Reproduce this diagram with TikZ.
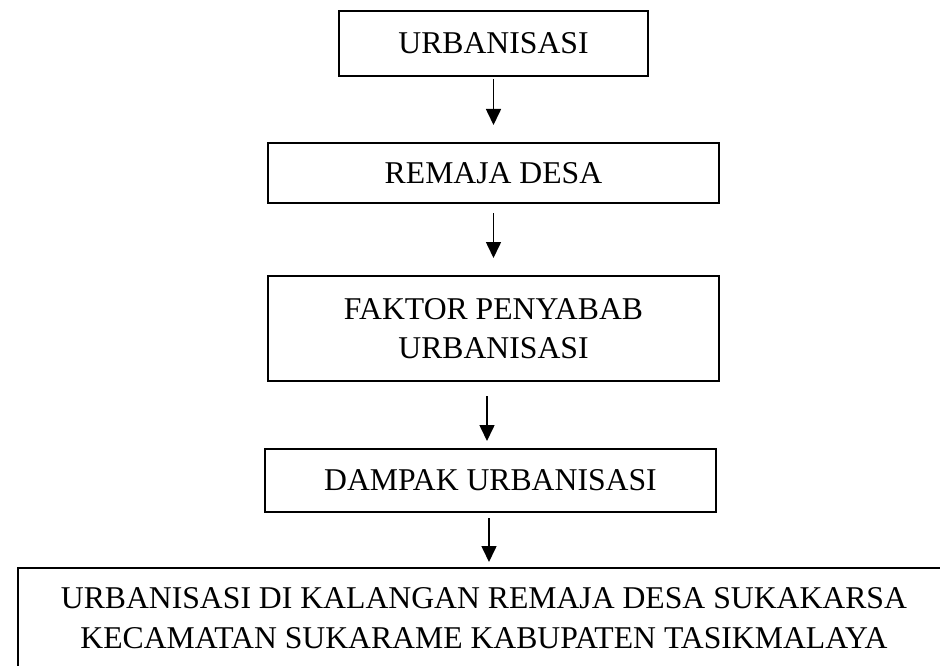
\documentclass[tikz,border=0pt]{standalone}
\usepackage{fontspec}
\setmainfont{Liberation Serif}
\usetikzlibrary{arrows.meta}
\begin{document}
\begin{tikzpicture}[x=1pt,y=-1pt,
  box/.style={draw=black, line width=2pt, inner sep=0pt, align=center,
    font=\fontsize{31.7}{39.5}\selectfont},
  arr/.style={line width=1.6pt, -{Triangle[width=15pt,length=16pt]}}]
\useasboundingbox (0,0) rectangle (940,666);
\node[box, minimum width=309pt, minimum height=65pt] (b1) at (493.5,43.5) {URBANISASI};
\node[box, minimum width=451pt, minimum height=60pt] (b2) at (493.5,173) {REMAJA DESA};
\node[box, minimum width=451pt, minimum height=105pt] (b3) at (493.5,328.5) {FAKTOR PENYABAB\\URBANISASI};
\node[box, minimum width=451pt, minimum height=63pt] (b4) at (490.5,480.5) {DAMPAK URBANISASI};
\node[box, minimum width=932pt, minimum height=100pt] (b5) at (484,618) {URBANISASI DI KALANGAN REMAJA DESA SUKAKARSA\\KECAMATAN SUKARAME KABUPATEN TASIKMALAYA};
\draw[arr] ([yshift=-2pt]b1.south) -- ([yshift=17pt]b2.north);
\draw[arr] ([yshift=-9pt]b2.south) -- ([yshift=17pt]b3.north);
\draw[arr] ([xshift=-6.5pt,yshift=-14pt]b3.south) -- ([xshift=-3.5pt,yshift=7pt]b4.north);
\draw[arr] ([xshift=-1.5pt,yshift=-5pt]b4.south) -- ([xshift=5pt,yshift=5pt]b5.north);
\end{tikzpicture}
\end{document}
